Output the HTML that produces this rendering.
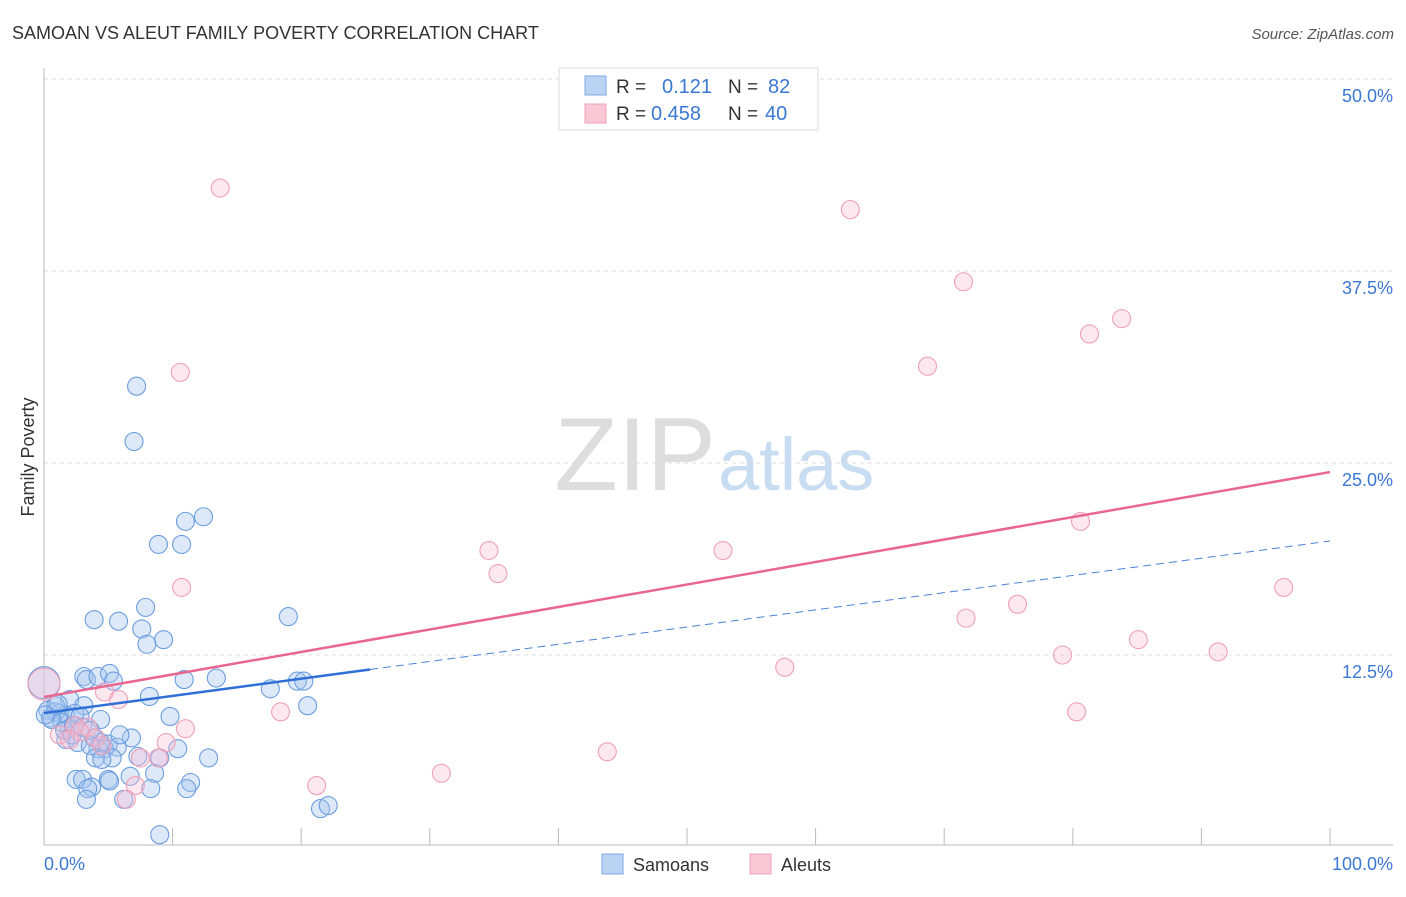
<!DOCTYPE html>
<html><head><meta charset="utf-8"><style>
body{margin:0;background:#fff;font-family:"Liberation Sans",sans-serif;}
svg text{font-family:"Liberation Sans",sans-serif;}
</style></head><body>
<svg id="chart" width="1406" height="892">
<text x="12" y="39" font-size="18" fill="#333">SAMOAN VS ALEUT FAMILY POVERTY CORRELATION CHART</text>
<text x="1394" y="39" font-size="15" font-style="italic" fill="#555" text-anchor="end">Source: ZipAtlas.com</text>
<text x="716" y="490" font-size="104" font-family="Liberation Serif" fill="#ddd" text-anchor="end">ZIP</text>
<text x="718" y="490" font-size="74" fill="#c8dcf2">atlas</text>
<g id="grid"></g>
<g id="marks"></g>
<text x="0" y="0" transform="translate(34,457) rotate(-90)" font-size="18" fill="#333" text-anchor="middle">Family Poverty</text>
<text x="44" y="870" font-size="18" fill="#3a78d4">0.0%</text>
<text x="1393" y="870" font-size="18" fill="#3a78d4" text-anchor="end">100.0%</text>
<g>
<rect x="559" y="68" width="259" height="62" fill="#fff" stroke="#ddd"/>
<rect x="585" y="76" width="21" height="19" fill="#b9d3f3" stroke="#7ea9e2"/>
<rect x="585" y="104" width="21" height="19" fill="#f9c8d6" stroke="#eea0b8"/>
<text x="616" y="93" font-size="19" fill="#333">R =</text>
<text x="662" y="93" font-size="20" fill="#3a78d4">0.121</text>
<text x="728" y="93" font-size="19" fill="#333">N =</text>
<text x="768" y="93" font-size="20" fill="#3a78d4">82</text>
<text x="616" y="120" font-size="19" fill="#333">R =</text>
<text x="651" y="120" font-size="20" fill="#3a78d4">0.458</text>
<text x="728" y="120" font-size="19" fill="#333">N =</text>
<text x="765" y="120" font-size="20" fill="#3a78d4">40</text>
</g>
<g>
<rect x="602" y="854" width="21" height="20" fill="#b9d3f3" stroke="#7ea9e2"/>
<text x="633" y="871" font-size="18" fill="#333">Samoans</text>
<rect x="750" y="854" width="21" height="20" fill="#f9c8d6" stroke="#eea0b8"/>
<text x="781" y="871" font-size="18" fill="#333">Aleuts</text>
</g>
</svg>
<script>
const yTicks=[12.5,25,37.5,50];
const yTickLabels=["12.5%","25.0%","37.5%","50.0%"];
const xTicks=[0,10,20,30,40,50,60,70,80,90,100];
const blueX=[7.2,7.0,11.0,12.4,8.9,10.7,3.9,5.8,7.9,7.6,8.0,9.3,19.0,3.1,3.3,4.2,5.1,5.4,10.9,13.4,17.6,19.7,20.2,8.2,2.0,3.1,1.2,9.8,20.5,0.3,0.9,1.7,2.4,2.8,0.5,1.4,2.0,1.7,2.6,3.9,4.4,5.0,4.2,4.7,3.6,6.8,5.7,7.3,10.4,12.8,5.3,4.0,2.5,3.0,5.0,5.1,6.7,8.6,11.4,3.7,3.4,8.3,11.1,3.3,6.2,9.0,21.5,22.1,0,0.9,0.6,1.6,2.2,4.4,1.1,2.3,3.0,3.6,5.9,0.1,9.0,4.5];
const blueY=[30.0,26.4,21.2,21.5,19.7,19.7,14.8,14.7,15.6,14.2,13.2,13.5,15.0,11.1,10.9,11.1,11.3,10.8,10.9,11.0,10.3,10.8,10.8,9.8,9.6,9.2,8.7,8.5,9.2,8.9,8.8,8.6,8.7,8.5,8.4,8.1,7.7,7.0,6.8,7.1,6.8,6.7,6.4,6.4,6.6,7.1,6.5,5.9,6.4,5.8,5.8,5.8,4.4,4.4,4.4,4.3,4.6,4.8,4.2,3.9,3.8,3.8,3.8,3.1,3.1,0.8,2.5,2.7,10.7,9.2,8.3,7.6,7.3,8.3,9.3,7.9,7.8,7.6,7.3,8.6,5.8,5.7];
const blueBig=[68];
const pinkX=[13.7,62.7,71.5,81.3,83.8,68.7,10.6,34.6,35.3,52.8,80.6,10.7,96.4,75.7,71.7,85.1,79.2,91.3,57.6,18.4,80.3,43.8,30.9,21.2,0,4.7,5.8,3.4,1.2,2.4,4.0,11.0,9.5,8.9,7.5,7.1,6.4,2.8,2.0,4.5];
const pinkY=[42.9,41.5,36.8,33.4,34.4,31.3,30.9,19.3,17.8,19.3,21.2,16.9,16.9,15.8,14.9,13.5,12.5,12.7,11.7,8.8,8.8,6.2,4.8,4.0,10.6,10.1,9.6,7.8,7.3,7.9,7.1,7.7,6.8,5.8,5.8,4.0,3.1,7.5,7.0,6.6];
const pinkBig=[24];
const blueTrend=[8.72,19.92];const blueSolidEnd=25.35;
const pinkTrend=[9.77,24.41];
const NS="http://www.w3.org/2000/svg";
const X=v=>44+v*12.86, Y=v=>847-v*15.36;
function mk(t,a,p){const e=document.createElementNS(NS,t);for(const k in a)e.setAttribute(k,a[k]);p.appendChild(e);return e;}
const grid=document.getElementById('grid'),marks=document.getElementById('marks');
yTicks.forEach((t,i)=>{
 const l=mk('line',{x1:44,x2:1393,y1:Y(t),y2:Y(t),stroke:'#ddd','stroke-dasharray':'4,4'},grid);
 
 
 const tx=mk('text',{x:1393,y:Y(t)+23,'font-size':18,fill:'#3a78d4','text-anchor':'end'},grid);
 tx.textContent=yTickLabels[i];
 
 
});
const ax=mk('line',{x1:44,x2:1393,y1:845,y2:845,stroke:'#bbb'},grid);


const ay=mk('line',{x1:44,x2:44,y1:68,y2:845,stroke:'#bbb'},grid);


xTicks.forEach(t=>{const l=mk('line',{x1:X(t),x2:X(t),y1:828,y2:845,stroke:'#bbb'},grid);
 
 });
function pts(xs,ys,big,fill,stroke,name){xs.forEach((x,i)=>{
 const c=mk('circle',{cx:X(x),cy:Y(ys[i]),r:big.includes(i)?16:9,fill:fill,stroke:stroke,'stroke-width':1.1},marks);
 
 });}
pts(blueX,blueY,blueBig,'rgba(165,198,240,0.38)','#6a9de0','samoan-point');
pts(pinkX,pinkY,pinkBig,'rgba(248,188,208,0.35)','#f0a0b9','aleut-point');
const by=x=>blueTrend[0]+(blueTrend[1]-blueTrend[0])*x/100;
const b1=mk('line',{x1:X(0),y1:Y(by(0)),x2:X(blueSolidEnd),y2:Y(by(blueSolidEnd)),stroke:'#2f6fd6','stroke-width':2.5},marks);


const b2=mk('line',{x1:X(blueSolidEnd),y1:Y(by(blueSolidEnd)),x2:X(100),y2:Y(by(100)),stroke:'#4a82d8','stroke-width':1,'stroke-dasharray':'8,5'},marks);


const p1=mk('line',{x1:X(0),y1:Y(pinkTrend[0]),x2:X(100),y2:Y(pinkTrend[1]),stroke:'#e8668f','stroke-width':2.5},marks);


</script>
</body></html>
